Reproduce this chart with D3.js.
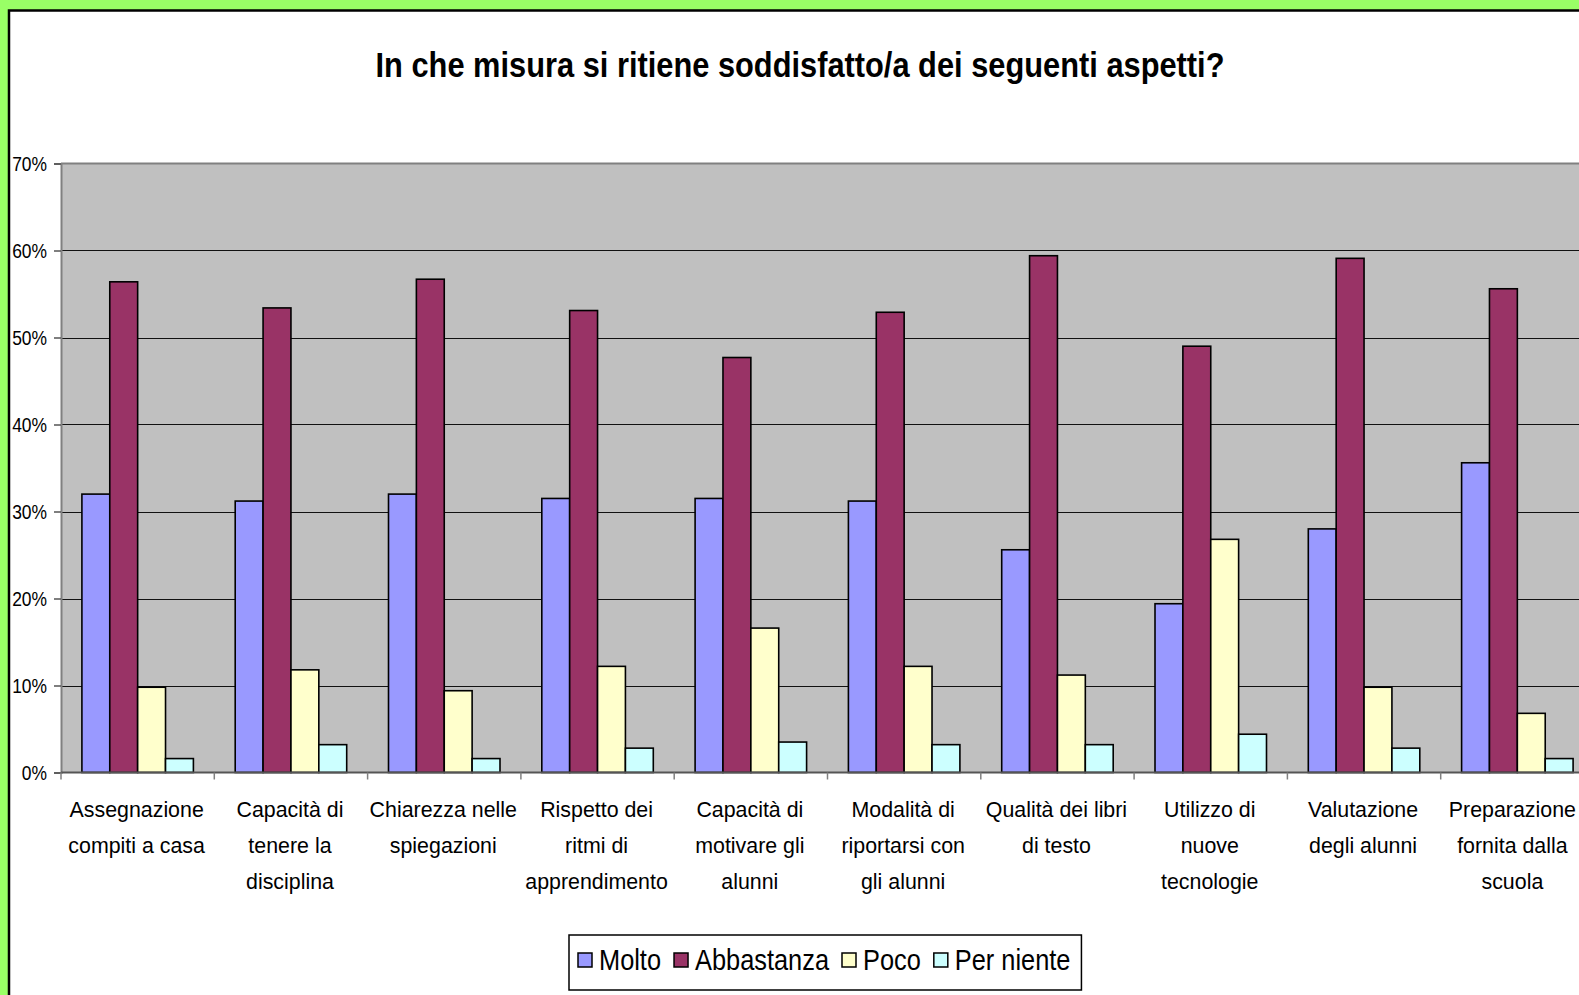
<!DOCTYPE html>
<html>
<head>
<meta charset="utf-8">
<script src="https://cdn.jsdelivr.net/npm/d3@7"></script>
<style>
  html, body { margin: 0; padding: 0; background: #99FF66; overflow: hidden; }
  svg { display: block; }
  text { font-family: "Liberation Sans", Arial, sans-serif; fill: #000; }
</style>
</head>
<body>
<svg id="chart" width="1579" height="995"></svg>
<script>
// Survey: satisfaction with various aspects of school (share of answers)
const title = "In che misura si ritiene soddisfatto/a dei seguenti aspetti?";

const categories = [
  ["Assegnazione", "compiti a casa"],
  ["Capacità di", "tenere la", "disciplina"],
  ["Chiarezza nelle", "spiegazioni"],
  ["Rispetto dei", "ritmi di", "apprendimento"],
  ["Capacità di", "motivare gli", "alunni"],
  ["Modalità di", "riportarsi con", "gli alunni"],
  ["Qualità dei libri", "di testo"],
  ["Utilizzo di", "nuove", "tecnologie"],
  ["Valutazione", "degli alunni"],
  ["Preparazione", "fornita dalla", "scuola"]
];

const seriesNames = ["Molto", "Abbastanza", "Poco", "Per niente"];
const seriesColors = ["#9999FF", "#993366", "#FFFFCC", "#CCFFFF"];

const molto      = [0.320, 0.312, 0.320, 0.315, 0.315, 0.312, 0.256, 0.194, 0.280, 0.356];
const abbastanza = [0.564, 0.534, 0.567, 0.531, 0.477, 0.529, 0.594, 0.490, 0.591, 0.556];
const poco       = [0.098, 0.118, 0.094, 0.122, 0.166, 0.122, 0.112, 0.268, 0.098, 0.068];
const perNiente  = [0.016, 0.032, 0.016, 0.028, 0.035, 0.032, 0.032, 0.044, 0.028, 0.016];

const seriesValues = [molto, abbastanza, poco, perNiente];
const yTicks = [0, 0.1, 0.2, 0.3, 0.4, 0.5, 0.6, 0.7];

const W = 1579;
const svg = d3.select("#chart");

// chart frame
svg.append("rect")
  .attr("x", 9).attr("y", 10.5)
  .attr("width", 1700).attr("height", 1100)
  .attr("fill", "#fff").attr("stroke", "#000").attr("stroke-width", 2.5);

// title
const titleText = svg.append("text")
  .attr("text-anchor", "middle")
  .attr("font-weight", "bold")
  .attr("font-size", 36)
  .text(title);
{
  const w = titleText.node().getComputedTextLength();
  const sx = 849 / w;
  titleText.attr("transform", `translate(800,77) scale(${sx},1)`);
}

const plot = { left: 61, top: 163.5, bottom: 772.5 };
const catStep = 153.3;
const plotRight = plot.left + categories.length * catStep;

const keys = categories.map((c, i) => i);
const x0 = d3.scaleBand().domain(keys).range([plot.left, plotRight]).paddingInner(0).paddingOuter(0);
const x1 = d3.scaleBand().domain(d3.range(seriesNames.length)).range([0, x0.bandwidth()]).paddingInner(0).paddingOuter(0.75);
const y = d3.scaleLinear().domain([0, 0.7]).range([plot.bottom, plot.top]);

// plot area background
svg.append("rect")
  .attr("x", plot.left).attr("y", y(0.7))
  .attr("width", plotRight - plot.left).attr("height", y(0) - y(0.7))
  .attr("fill", "#C0C0C0");

// gridlines
svg.append("g").selectAll("line")
  .data(yTicks.filter(d => d > 0 && d < 0.7))
  .join("line")
  .attr("x1", plot.left).attr("x2", plotRight)
  .attr("y1", d => Math.round(y(d)) + 0.5).attr("y2", d => Math.round(y(d)) + 0.5)
  .attr("stroke", "#111").attr("stroke-width", 1.2);

// top border of the plot area
svg.append("line")
  .attr("x1", plot.left).attr("x2", plotRight)
  .attr("y1", y(0.7)).attr("y2", y(0.7))
  .attr("stroke", "#808080").attr("stroke-width", 2.2);

// bars
const groups = svg.append("g").selectAll("g")
  .data(keys)
  .join("g")
  .attr("transform", d => `translate(${x0(d)},0)`);

groups.selectAll("rect")
  .data(ci => seriesValues.map((vals, si) => ({ si, v: vals[ci] })))
  .join("rect")
  .attr("x", d => x1(d.si))
  .attr("y", d => y(d.v))
  .attr("width", x1.bandwidth())
  .attr("height", d => y(0) - y(d.v))
  .attr("fill", d => seriesColors[d.si])
  .attr("stroke", "#000")
  .attr("stroke-width", 1.6);

// y axis
const yAxis = svg.append("g")
  .attr("transform", `translate(${plot.left},0)`)
  .call(d3.axisLeft(y).tickValues(yTicks).tickFormat(d3.format(".0%")).tickSize(7).tickPadding(0));
yAxis.select(".domain").attr("stroke", "#808080").attr("stroke-width", 2);
yAxis.selectAll(".tick line").attr("stroke", "#555").attr("stroke-width", 1.5);
yAxis.selectAll(".tick text")
  .attr("font-size", 21)
  .attr("x", 0)
  .attr("dy", "0.35em")
  .attr("transform", "translate(-14,0) scale(0.83,1)");

// x axis with category boundary ticks
const boundaries = keys.map(k => x0(k)).concat([plotRight]);
svg.append("line")
  .attr("x1", plot.left).attr("x2", plotRight)
  .attr("y1", y(0)).attr("y2", y(0))
  .attr("stroke", "#555").attr("stroke-width", 2);
svg.append("g").selectAll("line")
  .data(boundaries)
  .join("line")
  .attr("x1", d => d).attr("x2", d => d)
  .attr("y1", y(0)).attr("y2", y(0) + 7)
  .attr("stroke", "#808080").attr("stroke-width", 1.5);

// category labels (kept inside the right edge of the page)
const labelSx = 0.93;
const labels = svg.append("g").selectAll("text")
  .data(keys)
  .join("text")
  .attr("text-anchor", "middle")
  .attr("font-size", 23);
labels.selectAll("tspan")
  .data(d => categories[d])
  .join("tspan")
  .attr("x", 0)
  .attr("y", (d, i) => i * 36)
  .text(d => d);
labels.each(function (d) {
  const half = this.getBBox().width * labelSx / 2;
  let cx = x0(d) + x0.bandwidth() / 2 - 1;
  if (cx + half > W - 3) cx = W - 3 - half;
  d3.select(this).attr("transform", `translate(${cx},817) scale(${labelSx},1)`);
});

// legend
const legend = svg.append("g");
const legendBox = legend.append("rect")
  .attr("fill", "#fff").attr("stroke", "#000").attr("stroke-width", 1.5);
const legSx = 0.875;
let lx = 578;
seriesNames.forEach((name, i) => {
  legend.append("rect")
    .attr("x", lx).attr("y", 953)
    .attr("width", 14).attr("height", 14)
    .attr("fill", seriesColors[i]).attr("stroke", "#000").attr("stroke-width", 1.5);
  const t = legend.append("text")
    .attr("font-size", 29)
    .attr("transform", `translate(${lx + 21},970) scale(${legSx},1)`)
    .text(name);
  const w = t.node().getComputedTextLength() * legSx;
  lx = lx + 21 + w + 13;
});
legendBox
  .attr("x", 569).attr("y", 935)
  .attr("width", lx - 13 + 11 - 569).attr("height", 55);
</script>
</body>
</html>
